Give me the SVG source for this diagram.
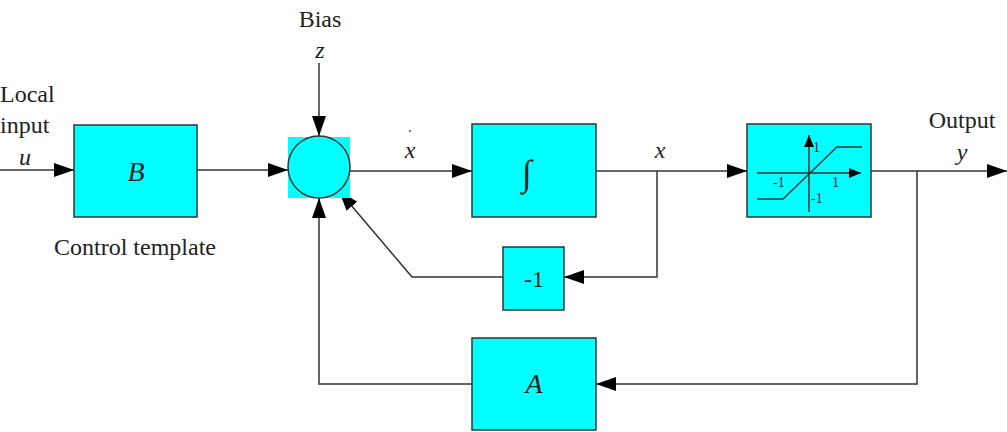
<svg xmlns="http://www.w3.org/2000/svg" width="1007" height="432" viewBox="0 0 1007 432">
  <defs>
    <marker id="arr" viewBox="0 0 20 14" refX="20" refY="7" markerWidth="20" markerHeight="14" markerUnits="userSpaceOnUse" orient="auto">
      <path d="M0,0 L20,7 L0,14 Z" fill="#000"/>
    </marker>
    <marker id="arrS" viewBox="0 0 12 10" refX="12" refY="5" markerWidth="12" markerHeight="10" markerUnits="userSpaceOnUse" orient="auto">
      <path d="M0,0 L12,5 L0,10 Z" fill="#000"/>
    </marker>
  </defs>
  <style>
    .box { fill: #00ffff; stroke: #333; stroke-width: 1.5; }
    .wire { fill: none; stroke: #333; stroke-width: 1.5; }
    .lbl { font-family: "Liberation Serif", "Times New Roman", serif; font-size: 24px; fill: #222; }
    .var { font-family: "Liberation Serif", "Times New Roman", serif; font-style: italic; font-size: 24px; fill: #222; }
    .big { font-family: "Liberation Serif", "Times New Roman", serif; font-style: italic; font-size: 28px; fill: #222; }
    .tiny { font-family: "Liberation Serif", "Times New Roman", serif; font-size: 14px; fill: #222; }
  </style>
  <rect width="1007" height="432" fill="#fff"/>

  <!-- signal lines -->
  <g id="connectors">
    <line class="wire" x1="0" y1="170" x2="74" y2="170" marker-end="url(#arr)"/>
    <line class="wire" x1="197" y1="170" x2="288" y2="170" marker-end="url(#arr)"/>
    <line class="wire" x1="319" y1="63" x2="319" y2="136" marker-end="url(#arr)"/>
    <line class="wire" x1="350" y1="171" x2="472" y2="171" marker-end="url(#arr)"/>
    <line class="wire" x1="596" y1="171" x2="747" y2="171" marker-end="url(#arr)"/>
    <polyline class="wire" points="657,171 657,277 564,277" marker-end="url(#arr)"/>
    <polyline class="wire" points="503,277 412,277 339,191" marker-end="url(#arr)"/>
    <line class="wire" x1="871" y1="171" x2="1007" y2="171" marker-end="url(#arr)"/>
    <polyline class="wire" points="917,171 917,384 596,384" marker-end="url(#arr)"/>
    <polyline class="wire" points="472,384 319,384 319,198" marker-end="url(#arr)"/>
  </g>

  <!-- input and output labels -->
  <g id="labels">
    <text class="lbl" x="0" y="102">Local</text>
    <text class="lbl" x="0" y="133">input</text>
    <text class="var" x="25" y="165" text-anchor="middle">u</text>
    <text class="lbl" x="135" y="255" text-anchor="middle">Control template</text>
    <text class="lbl" x="320" y="27" text-anchor="middle">Bias</text>
    <text class="var" x="320" y="58" text-anchor="middle">z</text>
    <text class="var" x="410" y="158" text-anchor="middle">x</text>
    <circle cx="410" cy="131" r="0.9" fill="#333"/>
    <text class="var" x="660" y="158" text-anchor="middle">x</text>
    <text class="lbl" x="962" y="128" text-anchor="middle">Output</text>
    <text class="var" x="962" y="160" text-anchor="middle">y</text>
  </g>

  <g id="node-B">
    <rect class="box" x="74" y="125" width="123" height="92"/>
    <text class="big" x="136" y="181" text-anchor="middle">B</text>
  </g>

  <g id="node-sum">
    <rect x="288" y="137" width="62" height="61" fill="#00ffff"/>
    <circle class="box" cx="319" cy="167" r="31"/>
  </g>

  <g id="node-integrator">
    <rect class="box" x="472" y="124" width="124" height="93"/>
    <text x="527" y="185" text-anchor="middle" font-family="'Liberation Serif', 'Times New Roman', serif" font-size="36" fill="#222">∫</text>
  </g>

  <g id="node-saturation">
    <rect class="box" x="747" y="124" width="124" height="93"/>
    <line class="wire" x1="809" y1="212" x2="809" y2="135" marker-end="url(#arrS)"/>
    <line class="wire" x1="757" y1="173" x2="861" y2="173" marker-end="url(#arrS)"/>
    <polyline class="wire" points="757,199 783,199 837,147 862,147"/>
    <text class="tiny" x="813" y="152">1</text>
    <text class="tiny" x="773" y="187">-1</text>
    <text class="tiny" x="832" y="187">1</text>
    <text class="tiny" x="811" y="203">-1</text>
  </g>

  <g id="node-neg">
    <rect class="box" x="503" y="247" width="61" height="63"/>
    <text class="lbl" x="534" y="287" text-anchor="middle">-1</text>
  </g>

  <g id="node-A">
    <rect class="box" x="472" y="338" width="124" height="92"/>
    <text class="big" x="534" y="393" text-anchor="middle">A</text>
  </g>
</svg>
